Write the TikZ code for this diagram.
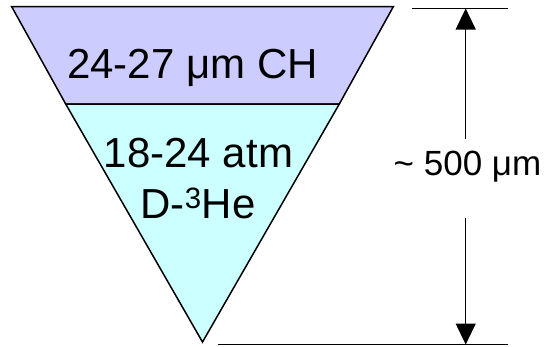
\documentclass[tikz,border=0pt]{standalone}
\usepackage{fontspec}
\setmainfont{Liberation Sans}
\usetikzlibrary{arrows.meta}
\definecolor{shellcol}{RGB}{204,204,255}
\definecolor{gascol}{RGB}{204,255,255}
\tikzset{
  bigtext/.style={font=\fontsize{42}{50}\selectfont, anchor=base, inner sep=0pt},
  dimtext/.style={font=\fontsize{35}{42}\selectfont, anchor=base, inner sep=0pt},
  dimarrow/.style={line width=1.2pt, -{Triangle[length=21pt,width=20pt]}}
}
\begin{document}
\begin{tikzpicture}[x=1pt,y=-1pt]
            \useasboundingbox (0,0) rectangle (546,346);
            \draw[fill=shellcol, line width=1.5pt, line join=miter] (11.7,6.7) -- (393.3,6.7) -- (339.3,104) -- (65.7,104) -- cycle;
            \draw[fill=gascol, line width=1.5pt, line join=miter] (65.7,104) -- (339.3,104) -- (202.5,342) -- cycle;
            \node[bigtext] (shell) at (192.5,78) {24-27 μm CH};
            \node[bigtext] (fill) at (198.5,167) {18-24 atm};
            \node[bigtext] (gas) at (198,218) {D-\textsuperscript{3}He};
            \coordinate (tl) at (411.5,8.5);
            \coordinate (tr) at (508,8.5);
            \coordinate (bl) at (218,344.5);
            \coordinate (br) at (508,344.5);
            \draw[line width=1.2pt] (tl) -- (tr);
            \draw[line width=1.2pt] (bl) -- (br);
            \node[dimtext] (size) at (467.5,175) {\char"007E\ 500 μm};
            \coordinate (uptail) at (465.7,139);
            \coordinate (uptip) at (465.7,8.5);
            \coordinate (downtail) at (465.7,218);
            \coordinate (downtip) at (465.7,344.5);
            \draw[dimarrow] (uptail) -- (uptip);
            \draw[dimarrow] (downtail) -- (downtip);
        \end{tikzpicture}
\end{document}
